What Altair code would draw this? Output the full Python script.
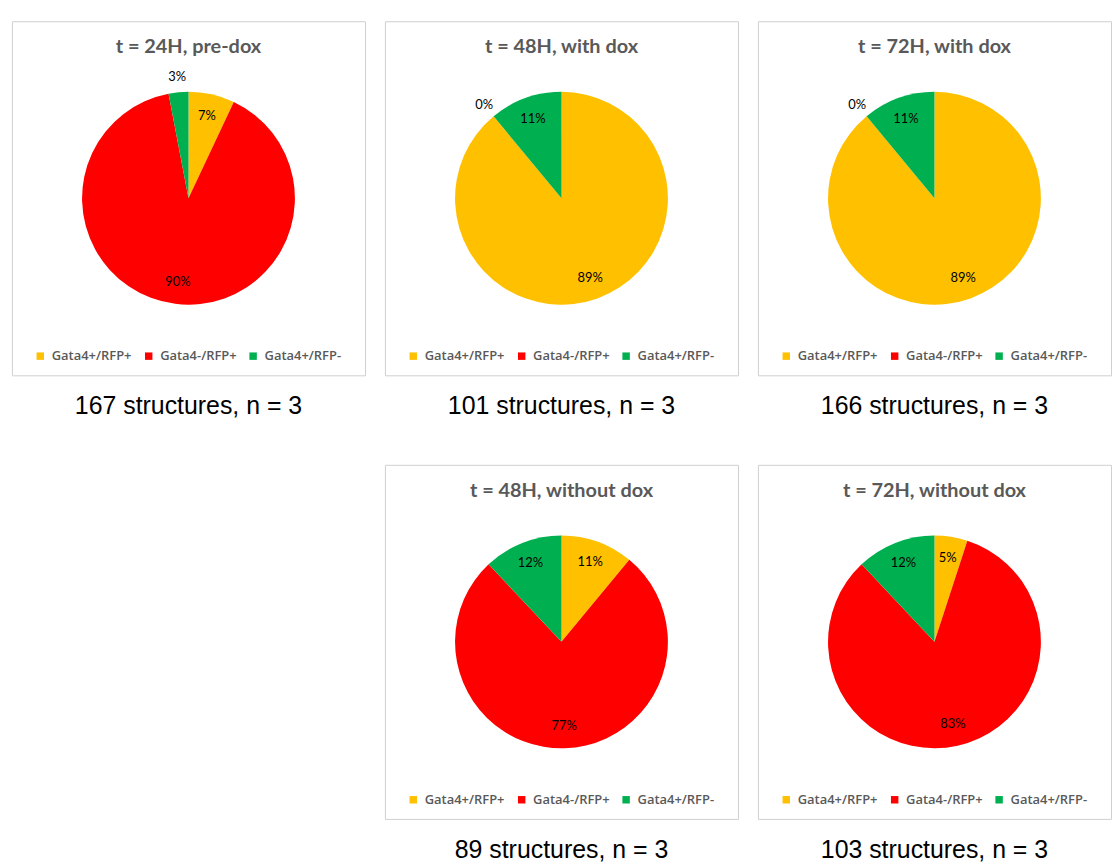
import altair as alt
import pandas as pd

# Categories shared by every pie, in clockwise drawing order from 12 o'clock
categories = ["Gata4+/RFP+", "Gata4-/RFP+", "Gata4+/RFP-"]
colors = ["#FFC000", "#FF0000", "#00B050"]

# Percentages per condition (same order as categories)
pct_24h_predox = [7, 90, 3]
pct_48h_dox = [89, 0, 11]
pct_72h_dox = [89, 0, 11]
pct_48h_nodox = [11, 77, 12]
pct_72h_nodox = [5, 83, 12]

titles = [
    "t = 24H, pre-dox",
    "t = 48H, with dox",
    "t = 72H, with dox",
    "t = 48H, without dox",
    "t = 72H, without dox",
]
captions = [
    "167 structures, n = 3",
    "101 structures, n = 3",
    "166 structures, n = 3",
    "89 structures, n = 3",
    "103 structures, n = 3",
]
series = [pct_24h_predox, pct_48h_dox, pct_72h_dox, pct_48h_nodox, pct_72h_nodox]

W = 355
H = 356
R = 107
FONT = "Lato"
LEGEND_FONT = "Open Sans"


def pie_panel(values, title, caption):
    df = pd.DataFrame({
        "category": categories,
        "value": values,
        "idx": list(range(len(categories))),
    })
    base = alt.Chart(df).encode(
        theta=alt.Theta("value:Q", stack=True),
        order=alt.Order("idx:Q"),
    ).transform_calculate(label="datum.value + '%'")

    arcs = base.mark_arc(outerRadius=R).encode(
        color=alt.Color(
            "category:N",
            scale=alt.Scale(domain=categories, range=colors),
            sort=categories,
            legend=alt.Legend(
                title=None,
                orient="none",
                direction="horizontal",
                legendX=22,
                legendY=330,
                symbolType="square",
                symbolSize=56,
                symbolStrokeWidth=0,
                labelFont=LEGEND_FONT,
                labelFontSize=13,
                labelFontWeight=600,
                labelColor="#595959",
                labelOffset=5,
                columnPadding=10,
            ),
        )
    )

    # slices of 5% or more carry their label inside, smaller ones just outside
    inner = base.mark_text(radius=85, font=FONT, fontSize=13, color="black").encode(
        text=alt.condition("datum.value >= 5", "label:N", alt.value(""))
    )
    outer = base.mark_text(radius=122, font=FONT, fontSize=13, color="black").encode(
        text=alt.condition("datum.value < 5", "label:N", alt.value(""))
    )

    head = alt.Chart(pd.DataFrame({"t": [title]})).mark_text(
        font=FONT, fontSize=20, fontWeight="bold", color="#595959", baseline="middle"
    ).encode(text="t:N", x=alt.value(W / 2), y=alt.value(26))

    return alt.layer(arcs, inner, outer, head).properties(
        width=W,
        height=H,
        view=alt.ViewBackground(stroke="#d0d0d0", strokeWidth=1),
        title=alt.TitleParams(
            text=caption,
            orient="bottom",
            font="Liberation Sans",
            fontSize=25,
            fontWeight="normal",
            color="black",
            offset=19,
        ),
    )


panels = [pie_panel(v, t, c) for v, t, c in zip(series, titles, captions)]

# empty slot at the bottom-left of the grid
blank = alt.Chart(pd.DataFrame({"a": [0]})).mark_point(size=0, opacity=0).encode(
    x=alt.value(W / 2), y=alt.value(H / 2)
).properties(width=W, height=H, view=alt.ViewBackground(stroke="transparent"))

top = alt.hconcat(*panels[:3], spacing=18).resolve_scale(
    color="independent", theta="independent"
).resolve_legend(color="independent")
bottom = alt.hconcat(blank, panels[3], panels[4], spacing=18).resolve_scale(
    color="independent", theta="independent"
).resolve_legend(color="independent")

chart = alt.vconcat(top, bottom, spacing=44).resolve_scale(
    color="independent", theta="independent"
).resolve_legend(color="independent").properties(
    padding={"left": 11, "top": 18, "right": 0, "bottom": 0},
    background="white",
)

chart.save("out.html", embed_options={"renderer": "svg", "actions": False})
